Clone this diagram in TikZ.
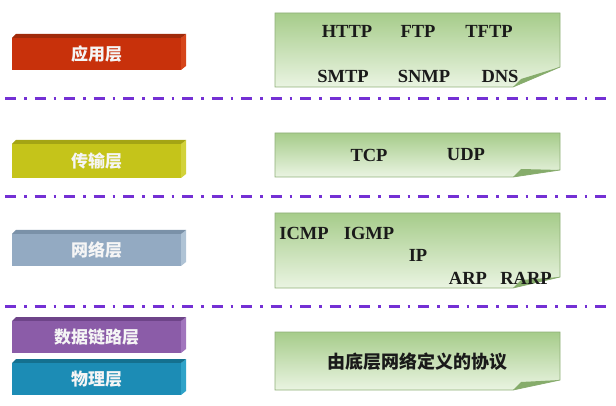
\documentclass[tikz,border=0pt]{standalone}
\usepackage{fontspec}
\setmainfont{Liberation Serif}
\newfontfamily\cjk{Noto Sans CJK SC}
\definecolor{gtop}{HTML}{A6CC8A}
\definecolor{gbot}{HTML}{EAF4E2}
\definecolor{gborder}{HTML}{8FAF78}
\definecolor{gfold}{HTML}{86AC6B}
\definecolor{sepline}{HTML}{7430D4}
\definecolor{proto}{HTML}{1A1A1A}
\definecolor{appF}{HTML}{C8310B}\definecolor{appT}{HTML}{A02A0A}\definecolor{appS}{HTML}{D6451A}
\definecolor{trF}{HTML}{C5C41A}\definecolor{trT}{HTML}{A4A414}\definecolor{trS}{HTML}{D2D23A}
\definecolor{netF}{HTML}{93AAC2}\definecolor{netT}{HTML}{7A91A8}\definecolor{netS}{HTML}{AFC3D5}
\definecolor{lkF}{HTML}{8B5CA8}\definecolor{lkT}{HTML}{6E4489}\definecolor{lkS}{HTML}{A175BD}
\definecolor{phF}{HTML}{1C8CB5}\definecolor{phT}{HTML}{14708F}\definecolor{phS}{HTML}{2FA3C9}
\tikzset{
  layer/.style={rectangle, inner sep=0pt, minimum width=169pt, text=white!96!black, font=\cjk\bfseries\fontsize{17}{17}\selectfont},
  prototext/.style={inner sep=0pt, text=proto, font=\bfseries\fontsize{18.5}{18.5}\selectfont},
  cjktext/.style={inner sep=0pt, text=proto, font=\cjk\bfseries\fontsize{18}{18}\selectfont},
  sep/.style={draw=sepline, line width=3pt, dash pattern=on 11pt off 8pt on 2.5pt off 8pt},
}
\newcommand\layerbar[7]{%
  \fill[#6] (181,#2) -- (186,#2-4) -- (186,#3-4) -- (181,#3) -- cycle;
  \fill[#5] (12,#2) -- (16,#2-4) -- (186,#2-4) -- (181,#2) -- cycle;
  \node[layer, fill=#4, minimum height={#3-#2}] (#1) at (96.5,{(#2+#3)/2}) {#7};
}
\newcommand\greenbox[4]{%
  \shade[top color=gtop, bottom color=gbot, draw=gborder, line width=0.8pt]
    (275,#2) -- (560,#2) -- (560,#4) -- (513,#3) -- (275,#3) -- cycle;
  \fill[gfold] (560,#4) -- (513,#3) -- (521,#3-8) -- cycle;
  \coordinate (#1) at (417.5,{(#2+#3)/2});
}
\begin{document}
\begin{tikzpicture}[x=1pt,y=-1pt]
\useasboundingbox (0,0) rectangle (616,406);
% left layer bars
\layerbar{app}{38}{70}{appF}{appT}{appS}{应用层}
\layerbar{trans}{144}{178}{trF}{trT}{trS}{传输层}
\layerbar{net}{234}{266}{netF}{netT}{netS}{网络层}
\layerbar{link}{321}{353}{lkF}{lkT}{lkS}{数据链路层}
\layerbar{phys}{363}{395}{phF}{phT}{phS}{物理层}
% separators
\coordinate (s1a) at (5,99);  \coordinate (s1b) at (612,99);
\coordinate (s2a) at (5,197); \coordinate (s2b) at (612,197);
\coordinate (s3a) at (5,306); \coordinate (s3b) at (612,306);
\draw[sep] (s1a) -- (s1b);
\draw[sep] (s2a) -- (s2b);
\draw[sep] (s3a) -- (s3b);
% green boxes
\greenbox{b1}{13}{87}{67}
\greenbox{b2}{133}{177}{170}
\greenbox{b3}{213}{288}{277}
\greenbox{b4}{332}{390}{380}
% protocols
\node[prototext] (http) at (347,31) {HTTP};
\node[prototext] (ftp) at (418,31) {FTP};
\node[prototext] (tftp) at (489,31) {TFTP};
\node[prototext] (smtp) at (343,76) {SMTP};
\node[prototext] (snmp) at (424,76) {SNMP};
\node[prototext] (dns) at (500,76) {DNS};
\node[prototext] (tcp) at (369,155) {TCP};
\node[prototext] (udp) at (466,155) {UDP};
\node[prototext] (icmp) at (304,233) {ICMP};
\node[prototext] (igmp) at (369,233) {IGMP};
\node[prototext] (ip) at (418,255) {IP};
\node[prototext] (arp) at (468,278) {ARP};
\node[prototext] (rarp) at (526,278) {RARP};
\node[cjktext] (lower) at (417,362) {由底层网络定义的协议};
\end{tikzpicture}
\end{document}
